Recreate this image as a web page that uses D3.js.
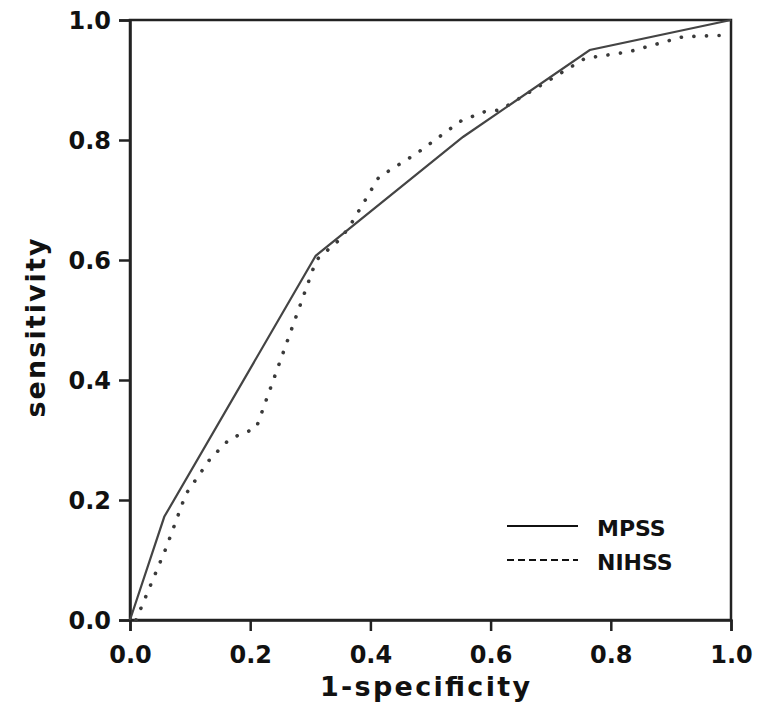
<!DOCTYPE html>
<html>
<head>
<meta charset="utf-8">
<script src="https://cdn.jsdelivr.net/npm/d3@7"></script>
<style>
  html, body { margin: 0; padding: 0; background: #fff; }
  svg { display: block; }
  text { font-family: "DejaVu Sans", sans-serif; font-weight: bold; fill: #111; }
</style>
</head>
<body>
<svg id="chart" width="757" height="709"></svg>
<script>
// ---- data ----
const xTicks = [0.0, 0.2, 0.4, 0.6, 0.8, 1.0];
const yTicks = [0.0, 0.2, 0.4, 0.6, 0.8, 1.0];
const seriesNames = ["MPSS", "NIHSS"];
const mpssFpr = [0.0, 0.057, 0.309, 0.554, 0.765, 1.0];
const mpssTpr = [0.0, 0.172, 0.607, 0.805, 0.950, 1.0];
const nihssFpr = [0.01, 0.06, 0.093, 0.133, 0.166, 0.21, 0.31, 0.35, 0.366, 0.414, 0.476, 0.551, 0.59, 0.616, 0.757, 0.83, 0.92, 1.0];
const nihssTpr = [0.0, 0.12, 0.21, 0.268, 0.302, 0.32, 0.60, 0.635, 0.657, 0.738, 0.777, 0.832, 0.847, 0.85, 0.936, 0.947, 0.972, 0.975];
const xTitle = "1-specificity";
const yTitle = "sensitivity";

const svg = d3.select("#chart");
const pLeft = 130, pRight = 731, pTop = 20, pBottom = 620;
const x = d3.scaleLinear().domain([0, 1]).range([pLeft, pRight]);
const y = d3.scaleLinear().domain([0, 1]).range([pBottom, pTop]);

// frame (top & right)
svg.append("rect").attr("x", pLeft).attr("y", pTop).attr("width", pRight - pLeft).attr("height", pBottom - pTop)
  .attr("fill", "none").attr("stroke", "#222").attr("stroke-width", 2.5);

// axes
const xAxis = d3.axisBottom(x).tickValues(xTicks).tickFormat(d3.format(".1f")).tickSize(11).tickPadding(15);
const yAxis = d3.axisLeft(y).tickValues(yTicks).tickFormat(d3.format(".1f")).tickSize(11).tickPadding(8);

const gx = svg.append("g").attr("transform", `translate(0,${pBottom})`).call(xAxis);
const gy = svg.append("g").attr("transform", `translate(${pLeft},0)`).call(yAxis);
[gx, gy].forEach(g => {
  g.select(".domain").attr("stroke", "#222").attr("stroke-width", 2.5);
  g.selectAll(".tick line").attr("stroke", "#222").attr("stroke-width", 2.5);
  g.selectAll(".tick text").attr("font-size", 24).attr("font-family", "DejaVu Sans").attr("font-weight", "bold").attr("fill", "#111");
});
gy.selectAll(".tick text").attr("dy", "0.36em");

// lines
const line = d3.line().x(d => x(d[0])).y(d => y(d[1]));
const mpss = mpssFpr.map((v, i) => [v, mpssTpr[i]]);
const nihss = nihssFpr.map((v, i) => [v, nihssTpr[i]]);

svg.append("path").datum(nihss).attr("d", line).attr("fill", "none")
  .attr("stroke", "#3a3a3a").attr("stroke-width", 3.6).attr("stroke-linecap", "round")
  .attr("stroke-dasharray", "0.1 12.5");
svg.append("path").datum(mpss).attr("d", line).attr("fill", "none")
  .attr("stroke", "#444").attr("stroke-width", 2.2);

// legend
const legend = svg.append("g");
const legY = [526, 560];
legend.append("line").attr("x1", 507).attr("x2", 578).attr("y1", legY[0]).attr("y2", legY[0])
  .attr("stroke", "#111").attr("stroke-width", 2);
legend.append("line").attr("x1", 507).attr("x2", 578).attr("y1", legY[1]).attr("y2", legY[1])
  .attr("stroke", "#111").attr("stroke-width", 2).attr("stroke-dasharray", "7 4");
seriesNames.forEach((n, i) => {
  legend.append("text").attr("x", 597).attr("y", legY[i] + 10).attr("font-size", 22).text(n);
});

// axis titles
svg.append("text").attr("x", 425).attr("y", 696).attr("text-anchor", "middle")
  .attr("font-size", 27).attr("textLength", 210).attr("lengthAdjust", "spacing").text(xTitle);
svg.append("text").attr("transform", "translate(45,328) rotate(-90)").attr("text-anchor", "middle")
  .attr("font-size", 27).attr("textLength", 179).attr("lengthAdjust", "spacing").text(yTitle);
</script>
</body>
</html>
